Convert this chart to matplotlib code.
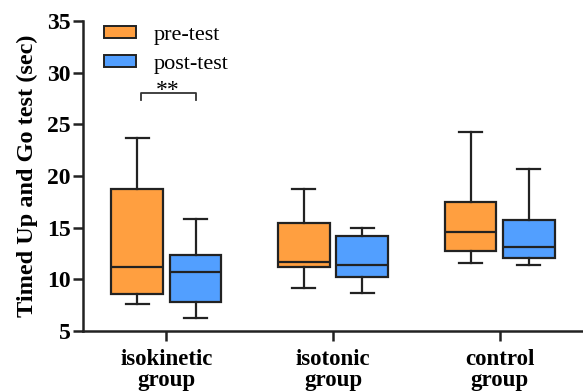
import numpy as np
import matplotlib.pyplot as plt
from matplotlib.patches import Patch

groups = ['isokinetic\ngroup', 'isotonic\ngroup', 'control\ngroup']

# five-number summaries: whislo, q1, med, q3, whishi
pre_test = [
    [7.6, 8.55, 11.2, 18.75, 23.7],
    [9.2, 11.2, 11.65, 15.5, 18.7],
    [11.6, 12.7, 14.55, 17.5, 24.3],
]
post_test = [
    [6.3, 7.85, 10.7, 12.4, 15.85],
    [8.65, 10.2, 11.35, 14.15, 14.95],
    [11.4, 12.1, 13.15, 15.7, 20.7],
]
series_names = ['pre-test', 'post-test']
colors = ['#FF9F40', '#529FFF']


def make_stats(rows):
    out = []
    for lo, q1, med, q3, hi in rows:
        out.append(dict(whislo=lo, q1=q1, med=med, q3=q3, whishi=hi, fliers=[]))
    return out


plt.rcParams['font.family'] = ['Liberation Serif', 'DejaVu Serif']

fig = plt.figure(figsize=(5.83, 3.92), dpi=100)
ax = fig.add_axes([0.1424, 0.1556, 0.8576, 0.7908])

x = np.arange(len(groups))
offset = 0.175
width = 0.31
for i, (data, col) in enumerate(zip([pre_test, post_test], colors)):
    pos = x + (i * 2 - 1) * offset
    ax.bxp(make_stats(data), positions=pos, widths=width, patch_artist=True,
           showfliers=False, manage_ticks=False,
           boxprops=dict(facecolor=col, edgecolor='#222222', linewidth=1.6),
           medianprops=dict(color='#222222', linewidth=1.6),
           whiskerprops=dict(color='#222222', linewidth=1.6),
           capprops=dict(color='#222222', linewidth=1.6),
           capwidths=width * 0.45)

# significance bracket
bx0, bx1 = x[0] - offset + 0.02, x[0] + offset
ax.plot([bx0, bx0, bx1, bx1], [27.4, 28.05, 28.05, 27.4], color='#333333', lw=1.3)
ax.text((bx0 + bx1) / 2, 27.25, '**', ha='center', va='bottom', fontsize=17)

ax.set_xlim(-0.5, 2.5)
ax.set_ylim(5, 35)
ax.set_yticks(np.arange(5, 36, 5))
ax.set_xticks(x)
ax.set_xticklabels(groups, fontsize=16.5, fontweight='bold', linespacing=1.0)
for lab in ax.get_yticklabels():
    lab.set_fontsize(17)
    lab.set_fontweight('bold')
ax.set_ylabel('Timed Up and Go test (sec)', fontsize=17.5, fontweight='bold', labelpad=6)

for s in ['top', 'right']:
    ax.spines[s].set_visible(False)
for s in ['left', 'bottom']:
    ax.spines[s].set_linewidth(1.8)
    ax.spines[s].set_color('#222222')
ax.tick_params(axis='y', width=1.8, length=7, color='#222222', pad=2)
ax.tick_params(axis='x', width=1.8, length=7, color='#222222', pad=6)

handles = [Patch(facecolor=c, edgecolor='#222222', linewidth=1.4) for c in colors]
ax.legend(handles, series_names, loc='upper left', bbox_to_anchor=(0.002, 1.05),
          frameon=False, fontsize=16, handlelength=1.45, handleheight=0.5,
          handletextpad=0.8, labelspacing=0.45)

fig.savefig('out.png', dpi=100)
